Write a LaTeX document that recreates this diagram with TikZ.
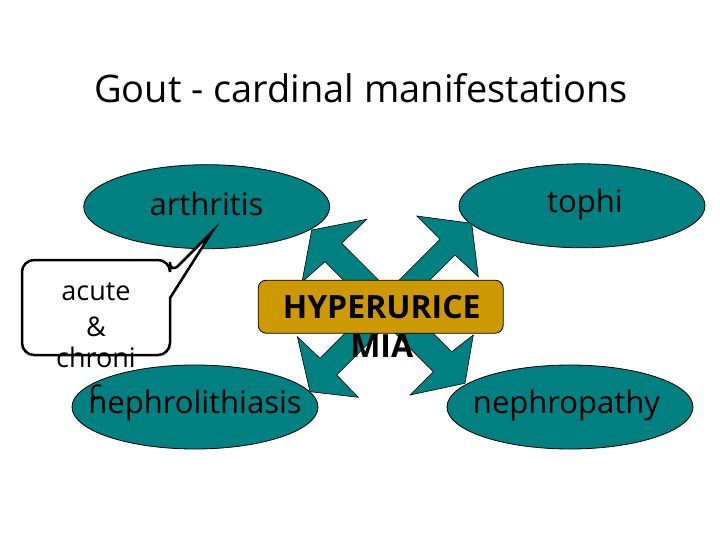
\documentclass[tikz,border=0pt]{standalone}
\usepackage{fontspec}
\setmainfont{Open Sans}
\usetikzlibrary{shapes.geometric}
\definecolor{tealc}{HTML}{008080}
\definecolor{goldc}{HTML}{CC9900}
\begin{document}
\begin{tikzpicture}[x=1pt,y=-1pt,
  oval/.style={ellipse, draw=black, line width=0.8pt, fill=tealc, minimum width=246pt, minimum height=84pt, inner sep=0pt},
  lbl/.style={anchor=base, inner sep=0pt, font=\fontsize{31}{31}\selectfont},
  boldlbl/.style={anchor=base, inner sep=0pt, font=\fontsize{32}{32}\selectfont\bfseries},
  calllbl/.style={anchor=base, inner sep=0pt, font=\fontsize{27}{27}\selectfont}]
\useasboundingbox (0,0) rectangle (720,540);
\fill[white] (0,0) rectangle (720,540);
% title
\node[anchor=base, inner sep=0pt, font=\fontsize{38}{38}\selectfont] (title) at (361,103) {Gout - cardinal manifestations};
% ellipses
\node[oval] (arth) at (206.7,206.7) {};
\node[oval] (tophi) at (582,205.8) {};
\node[oval] (neph) at (195,407) {};
\node[oval] (nepa) at (570,407) {};
% quad arrow
\filldraw[fill=tealc, draw=black, line width=0.6pt]
  (311.7,230) -- (366.7,219.3) -- (341.7,243.3) -- (388.9,290.4) -- (440,239.3) -- (416.7,216) -- (471.7,223.3)
  -- (478.3,276.7) -- (455,255) -- (405,305) -- (451.7,351.7) -- (473.3,335) -- (465,383.3)
  -- (410,395) -- (433.3,371.7) -- (386.7,325) -- (336.7,375) -- (358.3,397.3) -- (310,391.7)
  -- (297.3,336.7) -- (320,358.3) -- (370.8,307.5) -- (325,261.7) -- (302,282) -- cycle;
% central box
\node[draw=black, fill=goldc, rounded corners=8pt, minimum width=245pt, minimum height=53pt, inner sep=0pt, line width=0.8pt] (hyper) at (380.7,306.7) {};
\node[boldlbl] (hyperA) at (381.7,318.3) {HYPERURICE};
\node[boldlbl] (hyperB) at (381.7,357) {MIA};
% ellipse labels
\node[lbl] (arthT) at (206.5,215) {arthritis};
\node[lbl] (tophiT) at (585,212) {tophi};
\node[lbl] (nephT) at (195,413) {nephrolithiasis};
\node[lbl] (nepaT) at (566.5,413) {nephropathy};
% callout
\coordinate (tip) at (212,232);
\draw[line width=2.5pt, fill=white, rounded corners=12pt]
  (96,260) -- (170,260) -- (170,274) [sharp corners] -- (tip) -- (170,298) [rounded corners=12pt] -- (170,355) -- (22,355) -- (22,260) -- cycle;
\node[calllbl] (c1) at (96,300) {acute};
\node[calllbl] (c2) at (96,336) {\&};
\node[calllbl] (c3) at (96,367) {chroni};
\node[calllbl] (c4) at (96,399) {c};
\end{tikzpicture}
\end{document}
